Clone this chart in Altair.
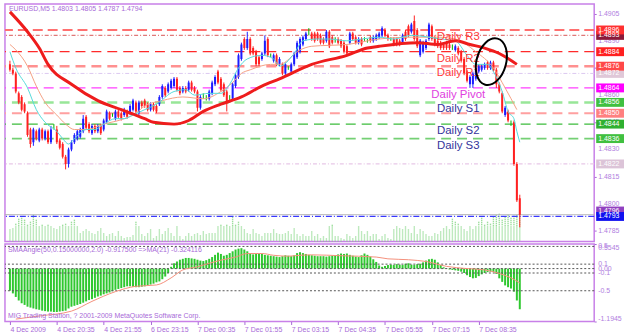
import json
import altair as alt
import pandas as pd

# ---------------- data (EURUSD, M5) ----------------
OPEN = [
1.4877,1.4874,1.4872,1.4861,1.4859,1.4855,1.4850,1.4841,1.4834,1.4840,
1.4835,1.4841,1.4836,1.4840,1.4834,1.4843,1.4841,1.4835,1.4833,1.4826,
1.4822,1.4830,1.4834,1.4836,1.4837,1.4840,1.4848,1.4844,1.4839,1.4843,
1.4840,1.4843,1.4841,1.4845,1.4850,1.4849,1.4847,1.4851,1.4850,1.4849,
1.4851,1.4850,1.4852,1.4856,1.4850,1.4856,1.4857,1.4855,1.4852,1.4855,
1.4854,1.4855,1.4859,1.4864,1.4862,1.4864,1.4865,1.4869,1.4864,1.4862,
1.4864,1.4863,1.4867,1.4864,1.4862,1.4853,1.4860,1.4859,1.4858,1.4861,
1.4866,1.4873,1.4869,1.4866,1.4862,1.4858,1.4858,1.4865,1.4870,1.4880,
1.4891,1.4886,1.4891,1.4886,1.4884,1.4881,1.4880,1.4883,1.4891,1.4882,
1.4879,1.4882,1.4877,1.4877,1.4872,1.4875,1.4873,1.4877,1.4881,1.4884,
1.4888,1.4891,1.4894,1.4894,1.4894,1.4894,1.4893,1.4891,1.4890,1.4895,
1.4892,1.4891,1.4891,1.4890,1.4889,1.4887,1.4889,1.4894,1.4892,1.4889,
1.4891,1.4891,1.4890,1.4892,1.4890,1.4891,1.4892,1.4893,1.4896,1.4893,
1.4891,1.4891,1.4891,1.4890,1.4889,1.4895,1.4898,1.4895,1.4901,1.4896,
1.4882,1.4884,1.4886,1.4891,1.4898,1.4892,1.4890,1.4889,1.4888,1.4889,
1.4888,1.4887,1.4885,1.4886,1.4884,1.4880,1.4873,1.4866,1.4866,1.4869,
1.4873,1.4874,1.4875,1.4878,1.4875,1.4878,1.4874,1.4866,1.4861,1.4849,
1.4851,1.4845,1.4845,1.4822,1.4803]
HIGH = [
1.4879,1.4875,1.4873,1.4862,1.4860,1.4856,1.4851,1.4842,1.4842,1.4841,
1.4842,1.4842,1.4841,1.4841,1.4843,1.4844,1.4843,1.4836,1.4834,1.4827,
1.4831,1.4835,1.4839,1.4841,1.4842,1.4849,1.4849,1.4845,1.4844,1.4844,
1.4844,1.4844,1.4847,1.4852,1.4851,1.4850,1.4852,1.4852,1.4851,1.4853,
1.4852,1.4855,1.4858,1.4857,1.4857,1.4857,1.4858,1.4856,1.4856,1.4856,
1.4855,1.4860,1.4866,1.4865,1.4867,1.4869,1.4870,1.4870,1.4865,1.4865,
1.4865,1.4868,1.4868,1.4865,1.4863,1.4860,1.4861,1.4860,1.4863,1.4868,
1.4871,1.4874,1.4870,1.4867,1.4863,1.4860,1.4867,1.4872,1.4883,1.4889,
1.4892,1.4895,1.4892,1.4887,1.4885,1.4882,1.4884,1.4893,1.4892,1.4883,
1.4883,1.4883,1.4881,1.4878,1.4878,1.4876,1.4878,1.4884,1.4890,1.4892,
1.4893,1.4895,1.4897,1.4895,1.4895,1.4895,1.4894,1.4892,1.4896,1.4896,
1.4893,1.4892,1.4892,1.4891,1.4890,1.4888,1.4895,1.4895,1.4893,1.4892,
1.4892,1.4892,1.4891,1.4893,1.4893,1.4894,1.4895,1.4898,1.4897,1.4894,
1.4892,1.4892,1.4892,1.4891,1.4894,1.4896,1.4899,1.4900,1.4904,1.4897,
1.4891,1.4890,1.4891,1.4900,1.4899,1.4893,1.4891,1.4890,1.4889,1.4890,
1.4889,1.4888,1.4888,1.4887,1.4885,1.4881,1.4874,1.4871,1.4873,1.4875,
1.4877,1.4877,1.4878,1.4879,1.4879,1.4879,1.4875,1.4867,1.4862,1.4854,
1.4852,1.4846,1.4846,1.4823,1.4805]
LOW = [
1.4873,1.4871,1.4861,1.4855,1.4851,1.4850,1.4837,1.4831,1.4832,1.4835,
1.4834,1.4835,1.4835,1.4833,1.4833,1.4841,1.4833,1.4830,1.4825,1.4819,
1.4820,1.4829,1.4833,1.4835,1.4836,1.4839,1.4841,1.4839,1.4838,1.4839,
1.4839,1.4838,1.4840,1.4844,1.4846,1.4848,1.4846,1.4847,1.4846,1.4848,
1.4847,1.4849,1.4851,1.4850,1.4849,1.4853,1.4853,1.4851,1.4851,1.4851,
1.4850,1.4854,1.4858,1.4859,1.4861,1.4863,1.4864,1.4862,1.4860,1.4861,
1.4861,1.4862,1.4862,1.4861,1.4851,1.4852,1.4858,1.4857,1.4857,1.4860,
1.4865,1.4866,1.4862,1.4859,1.4851,1.4856,1.4857,1.4864,1.4869,1.4879,
1.4885,1.4885,1.4882,1.4882,1.4876,1.4876,1.4879,1.4882,1.4881,1.4881,
1.4878,1.4876,1.4876,1.4871,1.4871,1.4874,1.4872,1.4876,1.4880,1.4883,
1.4887,1.4890,1.4893,1.4890,1.4889,1.4890,1.4888,1.4888,1.4889,1.4886,
1.4888,1.4889,1.4888,1.4886,1.4883,1.4882,1.4888,1.4890,1.4888,1.4888,
1.4887,1.4890,1.4889,1.4889,1.4889,1.4890,1.4891,1.4892,1.4892,1.4890,
1.4890,1.4887,1.4887,1.4887,1.4888,1.4890,1.4892,1.4894,1.4890,1.4886,
1.4881,1.4883,1.4885,1.4890,1.4890,1.4887,1.4886,1.4885,1.4885,1.4885,
1.4885,1.4885,1.4884,1.4882,1.4878,1.4871,1.4867,1.4864,1.4864,1.4868,
1.4872,1.4873,1.4874,1.4874,1.4874,1.4873,1.4864,1.4861,1.4850,1.4848,
1.4845,1.4843,1.4821,1.4801,1.4787]
CLOSE = [
1.4874,1.4872,1.4862,1.4856,1.4852,1.4851,1.4838,1.4833,1.4841,1.4836,
1.4841,1.4836,1.4840,1.4834,1.4841,1.4843,1.4834,1.4831,1.4826,1.4822,
1.4830,1.4834,1.4838,1.4840,1.4841,1.4847,1.4842,1.4840,1.4843,1.4840,
1.4843,1.4839,1.4846,1.4851,1.4847,1.4849,1.4851,1.4848,1.4847,1.4852,
1.4848,1.4854,1.4857,1.4851,1.4856,1.4854,1.4854,1.4852,1.4855,1.4852,
1.4851,1.4859,1.4865,1.4860,1.4866,1.4868,1.4869,1.4863,1.4861,1.4864,
1.4862,1.4867,1.4863,1.4862,1.4853,1.4859,1.4860,1.4859,1.4862,1.4867,
1.4870,1.4867,1.4863,1.4860,1.4856,1.4858,1.4866,1.4871,1.4882,1.4888,
1.4886,1.4891,1.4883,1.4883,1.4877,1.4877,1.4883,1.4890,1.4882,1.4882,
1.4882,1.4877,1.4880,1.4872,1.4877,1.4875,1.4877,1.4883,1.4889,1.4891,
1.4892,1.4894,1.4894,1.4891,1.4890,1.4891,1.4889,1.4889,1.4895,1.4887,
1.4889,1.4891,1.4889,1.4887,1.4884,1.4883,1.4894,1.4891,1.4889,1.4891,
1.4888,1.4891,1.4890,1.4890,1.4892,1.4893,1.4894,1.4897,1.4893,1.4891,
1.4891,1.4888,1.4888,1.4888,1.4893,1.4891,1.4893,1.4899,1.4891,1.4887,
1.4890,1.4889,1.4890,1.4899,1.4891,1.4888,1.4887,1.4886,1.4886,1.4886,
1.4886,1.4887,1.4887,1.4883,1.4879,1.4872,1.4868,1.4870,1.4872,1.4874,
1.4876,1.4876,1.4877,1.4875,1.4878,1.4874,1.4866,1.4862,1.4851,1.4853,
1.4846,1.4845,1.4822,1.4802,1.4794]
VOLUME = [
12,13,18,23,24,22,17,20,27,22,15,17,15,17,15,13,12,15,17,18,
15,20,22,15,8,10,12,10,8,7,10,13,8,5,7,8,5,10,5,3,
4,4,6,20,15,7,5,8,12,3,5,12,7,10,13,8,5,15,5,2,
5,8,5,7,8,6,10,7,8,
8,8,15,17,15,17,15,25,17,20,15,12,8,7,12,8,7,5,8,8,
8,12,8,7,7,8,10,7,13,7,5,7,5,5,10,5,7,3,5,3,
15,17,5,5,3,2,7,5,3,5,15,10,7,10,5,7,7,2,5,7,
3,2,12,15,13,12,15,12,
8,15,7,12,10,7,5,5,8,7,10,13,15,12,23,20,18,15,12,10,
15,12,15,20,24,17,20,18,25,27,28,22,25,27,24,26,27,28]
SMA_ANGLE = [
-0.50,-0.56,-0.64,-0.72,-0.78,-0.82,-0.86,-0.88,-0.90,-0.92,
-0.93,-0.95,-0.96,-0.97,-0.97,-0.98,-0.98,-0.97,-0.96,-0.95,
-0.90,-0.86,-0.84,-0.82,-0.80,-0.77,-0.74,-0.71,-0.69,-0.66,
-0.63,-0.61,-0.58,-0.56,-0.54,-0.51,-0.48,-0.46,-0.44,-0.42,
-0.40,-0.40,-0.41,-0.42,-0.42,-0.41,-0.40,-0.38,-0.36,-0.34,
-0.31,-0.29,-0.24,-0.18,-0.10,0.04,0.12,0.16,0.20,0.22,
0.24,0.24,0.23,0.22,0.20,0.18,0.17,0.19,0.22,0.26,
0.31,0.36,0.33,0.29,0.31,0.35,0.39,0.43,0.45,0.46,
0.43,0.39,0.35,0.32,0.33,0.35,0.33,0.31,0.30,0.29,
0.28,0.27,0.26,0.28,0.30,0.29,0.28,0.30,0.35,0.37,
0.35,0.33,0.31,0.30,0.29,0.28,0.28,0.28,0.27,0.28,
0.29,0.30,0.32,0.34,0.33,0.34,0.31,0.29,0.27,0.26,
0.30,0.34,0.31,0.27,0.21,0.15,0.07,0.04,0.06,0.08,
0.09,0.08,0.10,0.09,0.08,0.11,0.12,0.09,0.08,0.10,
0.11,0.14,0.18,0.21,0.22,0.20,0.14,0.08,0.03,-0.01,
-0.02,-0.03,-0.04,-0.05,-0.07,-0.10,-0.15,-0.19,-0.22,-0.21,
-0.17,-0.13,-0.10,-0.08,-0.07,-0.08,-0.12,-0.22,-0.30,-0.38,
-0.42,-0.45,-0.52,-0.72,-0.9175]

# moving averages read at selected bars
MA_SLOW_BAR = [0,6,10,13,21,30,38,46,49,56,61,66,72,79,86,92,103,115,122,126,139,146,152,157,162,167,173]
MA_SLOW = [1.4906,1.4895,1.4886,1.4877,1.4866,1.4857,1.4852,1.4847,1.4845,1.4844,1.4846,1.4851,1.4855,
           1.4859,1.4865,1.4869,1.4877,1.4882,1.4886,1.4887,1.4889,1.4888,1.4890,1.4888,1.4886,1.4883,1.4877]
MA_MID_BAR = [0,2,6,9,12,16,19,22,26,32,39,43,46,52,59,66,72,76,79,82,89,92,99,103,115,126,137,146,152,159,165,169,173]
MA_MID = [1.4888,1.4885,1.4876,1.4865,1.4856,1.4849,1.4844,1.4841,1.4841,1.4844,1.4847,1.4850,1.4854,1.4857,
          1.4859,1.4858,1.4862,1.4867,1.4872,1.4874,1.4877,1.4877,1.4885,1.4887,1.4888,1.4891,1.4892,1.4892,
          1.4891,1.4884,1.4875,1.4864,1.4852]
MA_FAST_BAR = [0,2,6,9,12,16,18,20,22,26,29,32,36,39,42,46,50,56,60,63,68,72,75,78,81,86,90,92,97,100,
               105,109,115,120,126,131,137,147,152,156,159,163,165,168,170,172,173,174]
MA_FAST = [1.4884,1.4875,1.4864,1.4852,1.4845,1.4840,1.4836,1.4833,1.4836,1.4841,1.4841,1.4844,1.4847,1.4847,
           1.4849,1.4852,1.4855,1.4862,1.4863,1.4860,1.4861,1.4861,1.4866,1.4875,1.4880,1.4882,1.4880,1.4876,
           1.4883,1.4890,1.4891,1.4891,1.4890,1.4891,1.4892,1.4891,1.4893,1.4891,1.4890,1.4882,1.4877,1.4877,
           1.4873,1.4862,1.4851,1.4847,1.4840,1.4834]
SIG_BAR = [2,10,21,28,36,43,50,55,59,64,68,72,77,81,86,90,95,99,103,113,125,129,136,142,149,156,162,167,171,174]
SIG = [-1.14,-1.07,-0.96,-0.74,-0.52,-0.40,-0.37,-0.21,-0.03,0.04,0.12,0.19,0.26,0.34,0.34,0.30,0.28,0.30,
       0.31,0.29,0.26,0.22,0.20,0.16,0.05,0.00,-0.03,-0.11,-0.21,-0.324]

LEVELS = [1.4896, 1.4893, 1.4884, 1.4876, 1.4872, 1.4864, 1.4856, 1.4850, 1.4844, 1.4836, 1.4822, 1.4794, 1.4793]
PIVOT_NAMES = ["Daily R3", "Daily R2", "Daily R1", "Daily Pivot", "Daily S1", "Daily S2", "Daily S3"]
PIVOT_VALUES = [1.4896, 1.4884, 1.4876, 1.4864, 1.4856, 1.4844, 1.4836]
BOX_VALUES = [1.4893, 1.4896, 1.4884, 1.4872, 1.4876, 1.4864, 1.4856, 1.4850, 1.4844, 1.4836, 1.4822, 1.4796, 1.4793]
PRICE_TICKS = [1.4785, 1.4800, 1.4815, 1.4830, 1.4845, 1.4860, 1.4875, 1.4890, 1.4905]
IND_TICKS = [0.5545, 0.5, 0.1, 0.0, -0.1, -0.5, -1.1945]
IND_TICK_LABELS = ["0.5545", "0.5", "0.1", "0.00", "-0.1", "-0.5", "-1.1945"]
IND_LEVELS = [0.5, 0.1, 0.0, -0.1, -0.5]
TIME_TICK_BARS = [0, 16, 32, 48, 64, 80, 96, 112, 128, 144, 160]
TIME_LABELS = ["4 Dec 2009", "4 Dec 20:35", "4 Dec 21:55", "6 Dec 23:15", "7 Dec 00:35", "7 Dec 01:55",
               "7 Dec 03:15", "7 Dec 04:35", "7 Dec 05:55", "7 Dec 07:15", "7 Dec 08:35"]
TITLE = "EURUSD,M5  1.4803 1.4805 1.4787 1.4794"
IND_TITLE = "SMAAngle(50,0.15000000,2.0) -0.917500  =>MA(21) -0.324116"
FOOTER = "MIG Trading Station, ? 2001-2009 MetaQuotes Software Corp."
LABEL_BAR = 153
ELLIPSE_BAR = 164.3
ELLIPSE_PRICE = 1.48785

# ---------------- styles ----------------
FONT = "Liberation Sans"
W, H_MAIN, H_IND = 593, 239, 78
X_DOMAIN = [0, 197.7]
P_DOMAIN = [1.477915, 1.491032]
I_DOMAIN = [-1.1945, 0.5545]
VOL_PX = (P_DOMAIN[1] - P_DOMAIN[0]) / H_MAIN   # price units per volume unit (1 px)
PURPLE = "#a86ad8"
AXIS_LAV = "#b07ee0"
LEVEL_STYLE = [
    ("#ff7070", 2, [10, 5]), ("#e07878", 1.2, [4, 2, 1, 2]), ("#ff2a2a", 1.2, [10, 6]),
    ("#ff9090", 2.5, [10, 6]), ("#dcc8f0", 1, [4, 2, 1, 2]), ("#ff40ff", 1.2, [10, 6]),
    ("#98e698", 2.5, [10, 6]), ("#ffa0a0", 1.8, [10, 6]), ("#3cbc3c", 1.2, [10, 6]),
    ("#74d074", 1.8, [10, 6]), ("#e8c8e8", 1.2, [4, 2, 1, 2]), ("#b0b0b0", 1, [1, 0]),
    ("#3838ff", 1.2, [6, 2, 1, 2]),
]
PIVOT_COLORS = ["#ff3b3b", "#ff3b3b", "#ff3b3b", "#e040e0", "#34349c", "#34349c", "#34349c"]
BOX_COLORS = ["#8b1a3a", "#ff3030", "#ff2020", "#e0c8d8", "#ff4848", "#ff00ff", "#40c040", "#ff8080",
              "#30b030", "#40c040", "#dcc4d8", "#9040c0", "#1010f0"]

xs = alt.Scale(domain=X_DOMAIN, nice=False, zero=False)
ps = alt.Scale(domain=P_DOMAIN, nice=False, zero=False)
iscale = alt.Scale(domain=I_DOMAIN, nice=False, zero=False)
XM = alt.X("bar:Q", scale=xs, axis=None)

# axis keeps only its tick marks; the labels are drawn as text marks below
price_axis = alt.Axis(orient="right", values=PRICE_TICKS, tickSize=2, labels=False,
                      tickColor=PURPLE, domain=False, grid=False, title=None)

n = len(CLOSE)
bars = pd.DataFrame({"bar": list(range(n)), "open": OPEN, "high": HIGH, "low": LOW,
                     "close": CLOSE, "volume": VOLUME, "angle": SMA_ANGLE})
base = alt.Chart(bars)

vol = base.transform_calculate(
    vtop=f"{P_DOMAIN[0]} + datum.volume * {VOL_PX}"
).mark_rule(color="#7fd47f", strokeWidth=1.4, strokeDash=[1, 1]).encode(
    x=XM, y=alt.Y("vtop:Q", scale=ps, axis=price_axis), y2=alt.datum(P_DOMAIN[0]))

# level lines
level_layers = []
for v, (c, w, d) in zip(LEVELS, LEVEL_STYLE):
    level_layers.append(
        alt.Chart(pd.DataFrame({"p": [v]})).mark_rule(color=c, strokeWidth=w, strokeDash=d)
        .encode(y=alt.Y("p:Q", scale=ps))
    )

cand = base.transform_calculate(
    dir="datum.close > datum.open ? 'up' : (datum.close < datum.open ? 'down' : 'flat')")
ccol = alt.Color("dir:N", scale=alt.Scale(domain=["up", "down", "flat"],
                                          range=["#1c1cff", "#ff2020", "#00b000"]), legend=None)
wicks = cand.mark_rule(strokeWidth=1, clip=True).encode(
    x=XM, y=alt.Y("low:Q", scale=ps), y2="high:Q", color=ccol)
bodies = cand.mark_bar(size=2, clip=True).encode(
    x=XM, y=alt.Y("open:Q", scale=ps), y2="close:Q", color=ccol)

def ma(bx, vals, color, width):
    return alt.Chart(pd.DataFrame({"bar": bx, "v": vals})).mark_line(
        color=color, strokeWidth=width, interpolate="monotone", clip=True).encode(
        x=XM, y=alt.Y("v:Q", scale=ps))

ma_mid = ma(MA_MID_BAR, MA_MID, "#f4a084", 1)
ma_fast = ma(MA_FAST_BAR, MA_FAST, "#55dada", 1)
ma_slow = ma(MA_SLOW_BAR, MA_SLOW, "#ee1c1c", 3)

pivot_layers = []
for name, v, c in zip(PIVOT_NAMES, PIVOT_VALUES, PIVOT_COLORS):
    pivot_layers.append(
        alt.Chart(pd.DataFrame({"p": [v], "t": [name], "bar": [LABEL_BAR]})).mark_text(
            font=FONT, fontSize=11.5, color=c, align="center", baseline="top", dy=1)
        .encode(x=XM, y=alt.Y("p:Q", scale=ps), text="t:N")
    )

ellipse = alt.Chart(pd.DataFrame({"bar": [ELLIPSE_BAR], "p": [ELLIPSE_PRICE]})).mark_point(
    shape="M -0.62,0 A 0.62,1 0 1,0 0.62,0 A 0.62,1 0 1,0 -0.62,0 Z",
    size=2304, filled=False, color="black", strokeWidth=2, opacity=1, angle=15).encode(
    x=XM, y=alt.Y("p:Q", scale=ps))

title = alt.Chart(pd.DataFrame({"t": [TITLE]})).mark_text(
    font=FONT, fontSize=7, color=PURPLE, align="left", baseline="middle").encode(
    x=alt.value(4), y=alt.value(5), text="t:N")

tick_df = pd.DataFrame({"p": PRICE_TICKS, "lab": [f"{v:.4f}" for v in PRICE_TICKS]})
price_labels = alt.Chart(tick_df).mark_text(
    font=FONT, fontSize=7, color=AXIS_LAV, align="left", baseline="middle").encode(
    x=alt.value(W + 4), y=alt.Y("p:Q", scale=ps), text="lab:N")

box_df = pd.DataFrame({"p": BOX_VALUES, "lab": [f"{v:.4f}" for v in BOX_VALUES]})
boxes = alt.Chart(box_df).mark_point(
    shape="M-1,-0.32H1V0.32H-1Z", size=784, filled=True, opacity=1).encode(
    x=alt.value(W + 16), y=alt.Y("p:Q", scale=ps),
    color=alt.Color("lab:N", scale=alt.Scale(domain=box_df["lab"].tolist(), range=BOX_COLORS), legend=None))
box_text = alt.Chart(box_df).mark_text(
    font=FONT, fontSize=7, color="white", align="left", baseline="middle").encode(
    x=alt.value(W + 4), y=alt.Y("p:Q", scale=ps), text="lab:N")

main = alt.layer(vol, *level_layers, wicks, bodies, ma_mid, ma_fast, ma_slow,
                 *pivot_layers, ellipse, title, price_labels, boxes, box_text
                 ).resolve_scale(color="independent").properties(width=W, height=H_MAIN)

# ---------------- indicator pane ----------------
time_expr = f"{json.dumps(TIME_LABELS)}[indexof({json.dumps(TIME_TICK_BARS)}, datum.value)]"
x_axis = alt.Axis(values=TIME_TICK_BARS, labelExpr=time_expr, orient="bottom", tickSize=3,
                  labelPadding=1, labelAlign="left", labelFontSize=7, labelFont=FONT,
                  labelColor=PURPLE, tickColor=PURPLE, domain=False, grid=False, title=None,
                  labelFlush=False, labelOverlap=False, labelBound=False)
ind_axis = alt.Axis(orient="right", values=IND_TICKS, tickSize=2, labels=False,
                    tickColor=PURPLE, domain=False, grid=False, title=None)

hist = base.mark_bar(size=2, color="#2fc82f").encode(
    x=alt.X("bar:Q", scale=xs, axis=x_axis), y=alt.Y("angle:Q", scale=iscale, axis=ind_axis),
    y2=alt.datum(0))
sig = alt.Chart(pd.DataFrame({"bar": SIG_BAR, "v": SIG})).mark_line(
    color="#f4907c", strokeWidth=1, interpolate="monotone").encode(
    x=alt.X("bar:Q", scale=xs), y=alt.Y("v:Q", scale=iscale))
ind_rules = alt.Chart(pd.DataFrame({"v": IND_LEVELS})).mark_rule(
    color="#555555", strokeWidth=1, strokeDash=[2, 2]).encode(y=alt.Y("v:Q", scale=iscale))
ind_title = alt.Chart(pd.DataFrame({"t": [IND_TITLE]})).mark_text(
    font=FONT, fontSize=7, color=PURPLE, align="left", baseline="middle").encode(
    x=alt.value(3), y=alt.value(6), text="t:N")
footer = alt.Chart(pd.DataFrame({"t": [FOOTER]})).mark_text(
    font=FONT, fontSize=7, color=PURPLE, align="left", baseline="middle").encode(
    x=alt.value(3), y=alt.value(72), text="t:N")

ind_df = pd.DataFrame({"v": IND_TICKS, "lab": IND_TICK_LABELS})
ind_label_layers = []
for sub, bl in ((ind_df.iloc[:1], "top"), (ind_df.iloc[1:-1], "middle"), (ind_df.iloc[-1:], "bottom")):
    ind_label_layers.append(
        alt.Chart(sub).mark_text(font=FONT, fontSize=7, color=AXIS_LAV, align="left", baseline=bl)
        .encode(x=alt.value(W + 4), y=alt.Y("v:Q", scale=iscale), text="lab:N")
    )

ind = alt.layer(hist, ind_rules, sig, ind_title, footer, *ind_label_layers).properties(width=W, height=H_IND)

chart = alt.vconcat(main, ind, spacing=2.5, bounds="flush").properties(
    padding={"left": 3, "top": 2, "right": 0, "bottom": 0},
    background="white",
).configure_view(stroke="#c880e8", strokeWidth=1.5).configure_text(font=FONT)

chart.save("out.html", embed_options={"renderer": "svg", "actions": False})
